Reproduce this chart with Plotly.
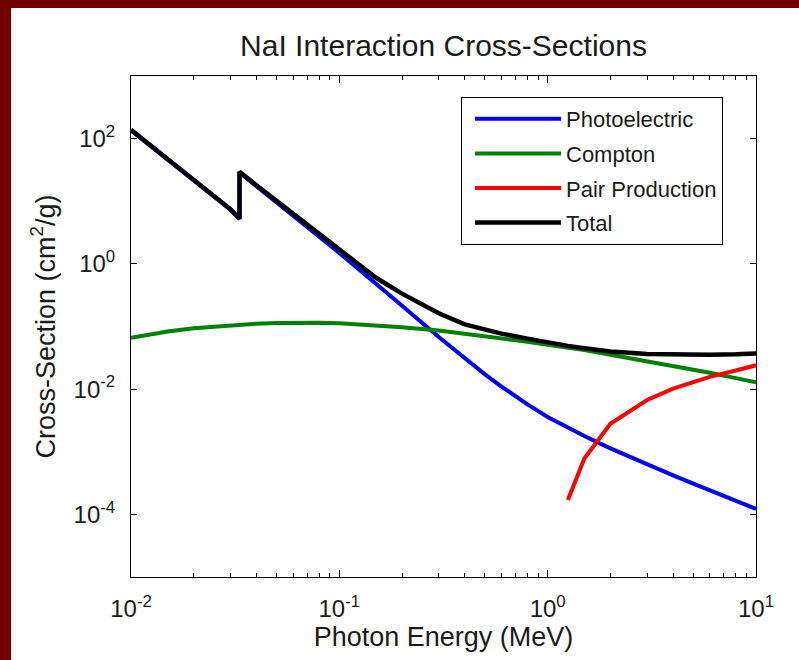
import plotly.graph_objects as go

# Photon energy grid (MeV); K-edge of iodine appears twice
energy = [0.01, 0.015, 0.02, 0.03, 0.03317, 0.03317, 0.04, 0.05, 0.06, 0.08,
          0.1, 0.15, 0.2, 0.3, 0.4, 0.5, 0.6, 0.8, 1.0, 1.25, 1.5, 2.0,
          3.0, 4.0, 5.0, 6.0, 8.0, 10.0]

photoelectric = [135, 46.0, 21.8, 7.3, 5.2, 28.9, 17.4, 9.7, 5.95, 2.72,
                 1.50, 0.47, 0.215, 0.068, 0.031, 0.0172, 0.0110, 0.0057, 0.0036,
                 0.00242, 0.00178, 0.00113, 0.00062, 0.00042, 0.00031, 0.000242,
                 0.000165, 0.000122]

compton = [0.066, 0.083, 0.094, 0.105, 0.107, 0.107, 0.111, 0.114, 0.115, 0.115,
           0.113, 0.105, 0.097, 0.086, 0.077, 0.070, 0.065, 0.057, 0.051,
           0.046, 0.042, 0.0355, 0.028, 0.0235, 0.0205, 0.0182, 0.0150, 0.0128]

pair_energy = [1.25, 1.5, 2.0, 3.0, 4.0, 5.0, 6.0, 8.0, 10.0]
pair_production = [0.00017, 0.00078, 0.0028, 0.0067, 0.0102, 0.0131, 0.0157,
                   0.0198, 0.0240]

total = [138, 47.5, 22.5, 7.5, 5.3, 29.5, 18.0, 10.1, 6.3, 2.95,
         1.65, 0.60, 0.335, 0.163, 0.108, 0.088, 0.077, 0.064, 0.055,
         0.049, 0.045, 0.040, 0.0365, 0.0355, 0.0355, 0.0355, 0.036, 0.037]

x_tickvals = [0.01, 0.1, 1, 10]
x_ticktext = ["10<sup>-2</sup>", "10<sup>-1</sup>", "10<sup>0</sup>", "10<sup>1</sup>"]
y_tickvals = [1e-4, 1e-2, 1, 1e2]
y_ticktext = ["10<sup>-4</sup>", "10<sup>-2</sup>", "10<sup>0</sup>", "10<sup>2</sup>"]
x_minor = [m * 10 ** e for e in (-2, -1, 0) for m in range(2, 10)]

FONT = "Liberation Sans, Arial, sans-serif"
TXT = "#1a1a1a"

fig = go.Figure()
fig.add_trace(go.Scatter(x=energy, y=photoelectric, mode="lines", name="Photoelectric",
                         line=dict(color="#0000ff", width=4), legendgroup="a"))
fig.add_trace(go.Scatter(x=energy, y=compton, mode="lines", name="Compton",
                         line=dict(color="#008000", width=4), legendgroup="b"))
fig.add_trace(go.Scatter(x=pair_energy, y=pair_production, mode="lines", name="Pair Production",
                         line=dict(color="#ff0000", width=4), legendgroup="c"))
fig.add_trace(go.Scatter(x=energy, y=total, mode="lines", name="Total",
                         line=dict(color="#000000", width=4.5), legendgroup="d"))

W, H = 799, 660
L, R, T, B = 131, 43, 76, 83
pw, ph = W - L - R, H - T - B
def px2x(px):
    return (px - L) / pw
def py2y(py):
    return (H - B - py) / ph

maroon = "#700000"
fig.add_shape(type="rect", xref="paper", yref="paper", layer="below",
              x0=px2x(0), x1=px2x(11), y0=py2y(H), y1=py2y(0),
              fillcolor=maroon, line=dict(width=0))
fig.add_shape(type="rect", xref="paper", yref="paper", layer="below",
              x0=px2x(0), x1=px2x(W), y0=py2y(8), y1=py2y(0),
              fillcolor=maroon, line=dict(width=0))

fig.update_layout(
    width=W, height=H,
    margin=dict(l=L, r=R, t=T, b=B, pad=0),
    paper_bgcolor="white", plot_bgcolor="white",
    font=dict(family=FONT, color=TXT),
    title=dict(text="NaI Interaction Cross-Sections", font=dict(size=30, color=TXT),
               x=0.5, xref="paper", xanchor="center",
               y=1 - 45 / H, yref="container", yanchor="middle"),
    showlegend=True,
    legend=dict(x=px2x(461), y=py2y(97), xanchor="left", yanchor="top",
                bgcolor="white", bordercolor="black", borderwidth=1,
                font=dict(size=22, color=TXT), tracegroupgap=3,
                itemwidth=86, indentation=8),
)
fig.update_xaxes(type="log", range=[-2, 1], showgrid=False, zeroline=False,
                 showline=True, linecolor="black", linewidth=1, mirror="ticks",
                 ticks="inside", ticklen=7, tickcolor="black",
                 tickmode="array", tickvals=x_tickvals, ticktext=x_ticktext,
                 tickfont=dict(size=24, color=TXT), ticklabelstandoff=10,
                 minor=dict(ticks="inside", ticklen=4, tickcolor="black",
                            tickmode="array", tickvals=x_minor, showgrid=False),
                 title=dict(text="Photon Energy (MeV)", font=dict(size=27, color=TXT),
                            standoff=4))
fig.update_yaxes(type="log", range=[-5, 3], showgrid=False, zeroline=False,
                 showline=True, linecolor="black", linewidth=1, mirror="ticks",
                 ticks="inside", ticklen=6, tickcolor="black",
                 tickmode="array", tickvals=y_tickvals, ticktext=y_ticktext,
                 tickfont=dict(size=24, color=TXT), ticklabelstandoff=10,
                 title=dict(text="Cross-Section (cm<sup>2</sup>/g)", font=dict(size=27, color=TXT),
                            standoff=10))

fig.write_html("out.html", config={"displayModeBar": False},
               post_script="document.body.style.margin='0px';")
